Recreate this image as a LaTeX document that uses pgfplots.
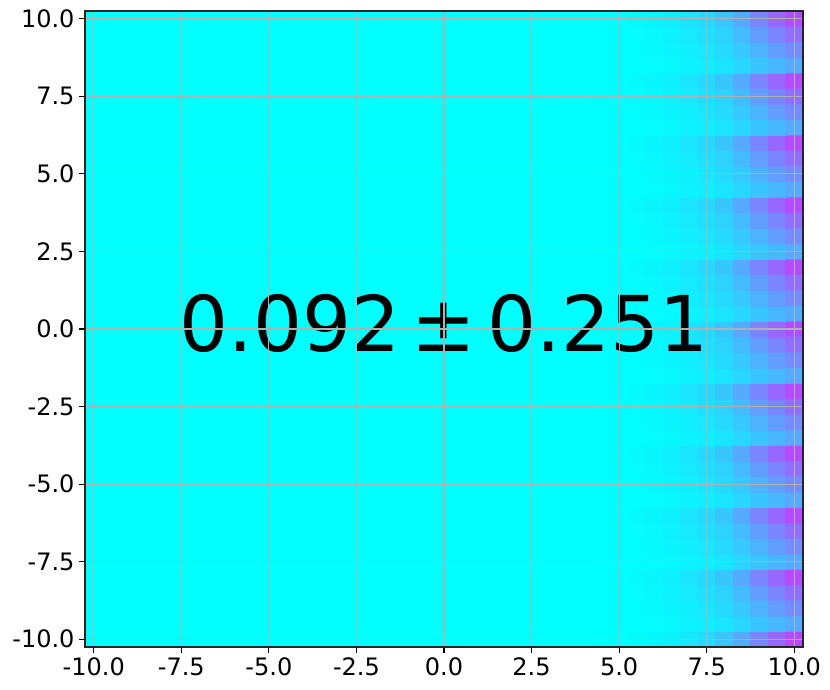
\documentclass[border=0pt]{standalone}
\usepackage{pgfplots}
\pgfplotsset{compat=1.18}
\usepackage{fontspec}
\setmainfont{DejaVu Sans}
\definecolor{gridgray}{RGB}{176,176,176}
\begin{document}
\begin{tikzpicture}
\path[use as bounding box] (-85pt,-43pt) rectangle (745pt,647pt);
\begin{axis}[
  at={(0pt,0pt)}, anchor=south west,
  width=718pt, height=636pt, scale only axis,
  xmin=-10.25, xmax=10.25, ymin=-10.25, ymax=10.25,
  axis background/.style={fill={rgb,1:red,0;green,1;blue,1}},
  colormap={cool}{rgb=(0,1,1) rgb=(1,0,1)},
  point meta min=0, point meta max=1,
  axis on top,
  xtick={-10,-7.5,-5,-2.5,0,2.5,5,7.5,10},
  ytick={-10,-7.5,-5,-2.5,0,2.5,5,7.5,10},
  xticklabels={-10.0,-7.5,-5.0,-2.5,0.0,2.5,5.0,7.5,10.0},
  yticklabels={-10.0,-7.5,-5.0,-2.5,0.0,2.5,5.0,7.5,10.0},
  xtick pos=bottom, ytick pos=left,
  ticklabel style={font=\fontsize{24}{24}\selectfont},
  xticklabel style={yshift=-1pt},
  yticklabel style={xshift=-1pt},
  tick align=outside, major tick length=6pt,
  tick style={black, line width=1.2pt},
  axis line style={line width=1.5pt, black!85},
  grid=major,
  major grid style={gridgray, line width=1.1pt},
]
\addplot[matrix plot*, mesh/cols=12, point meta=explicit, shader=flat corner]
 table[row sep=\\, x index=0, y index=1, meta index=2] {
4.5 -10 0.004\\ 5 -10 0.010\\ 5.5 -10 0.020\\ 6 -10 0.035\\ 6.5 -10 0.060\\ 7 -10 0.100\\ 7.5 -10 0.145\\ 8 -10 0.220\\ 8.5 -10 0.330\\ 9 -10 0.470\\ 9.5 -10 0.590\\ 10 -10 0.700\\
4.5 -9.5 0.002\\ 5 -9.5 0.005\\ 5.5 -9.5 0.009\\ 6 -9.5 0.016\\ 6.5 -9.5 0.028\\ 7 -9.5 0.047\\ 7.5 -9.5 0.068\\ 8 -9.5 0.103\\ 8.5 -9.5 0.155\\ 9 -9.5 0.221\\ 9.5 -9.5 0.277\\ 10 -9.5 0.329\\
4.5 -9 0.003\\ 5 -9 0.006\\ 5.5 -9 0.013\\ 6 -9 0.022\\ 6.5 -9 0.038\\ 7 -9 0.064\\ 7.5 -9 0.093\\ 8 -9 0.141\\ 8.5 -9 0.211\\ 9 -9 0.301\\ 9.5 -9 0.378\\ 10 -9 0.448\\
4.5 -8.5 0.003\\ 5 -8.5 0.008\\ 5.5 -8.5 0.016\\ 6 -8.5 0.028\\ 6.5 -8.5 0.048\\ 7 -8.5 0.080\\ 7.5 -8.5 0.116\\ 8 -8.5 0.176\\ 8.5 -8.5 0.264\\ 9 -8.5 0.376\\ 9.5 -8.5 0.472\\ 10 -8.5 0.560\\
4.5 -8 0.004\\ 5 -8 0.010\\ 5.5 -8 0.020\\ 6 -8 0.035\\ 6.5 -8 0.060\\ 7 -8 0.100\\ 7.5 -8 0.145\\ 8 -8 0.220\\ 8.5 -8 0.330\\ 9 -8 0.470\\ 9.5 -8 0.590\\ 10 -8 0.700\\
4.5 -7.5 0.002\\ 5 -7.5 0.005\\ 5.5 -7.5 0.009\\ 6 -7.5 0.016\\ 6.5 -7.5 0.028\\ 7 -7.5 0.047\\ 7.5 -7.5 0.068\\ 8 -7.5 0.103\\ 8.5 -7.5 0.155\\ 9 -7.5 0.221\\ 9.5 -7.5 0.277\\ 10 -7.5 0.329\\
4.5 -7 0.003\\ 5 -7 0.006\\ 5.5 -7 0.013\\ 6 -7 0.022\\ 6.5 -7 0.038\\ 7 -7 0.064\\ 7.5 -7 0.093\\ 8 -7 0.141\\ 8.5 -7 0.211\\ 9 -7 0.301\\ 9.5 -7 0.378\\ 10 -7 0.448\\
4.5 -6.5 0.003\\ 5 -6.5 0.008\\ 5.5 -6.5 0.016\\ 6 -6.5 0.028\\ 6.5 -6.5 0.048\\ 7 -6.5 0.080\\ 7.5 -6.5 0.116\\ 8 -6.5 0.176\\ 8.5 -6.5 0.264\\ 9 -6.5 0.376\\ 9.5 -6.5 0.472\\ 10 -6.5 0.560\\
4.5 -6 0.004\\ 5 -6 0.010\\ 5.5 -6 0.020\\ 6 -6 0.035\\ 6.5 -6 0.060\\ 7 -6 0.100\\ 7.5 -6 0.145\\ 8 -6 0.220\\ 8.5 -6 0.330\\ 9 -6 0.470\\ 9.5 -6 0.590\\ 10 -6 0.700\\
4.5 -5.5 0.002\\ 5 -5.5 0.005\\ 5.5 -5.5 0.009\\ 6 -5.5 0.016\\ 6.5 -5.5 0.028\\ 7 -5.5 0.047\\ 7.5 -5.5 0.068\\ 8 -5.5 0.103\\ 8.5 -5.5 0.155\\ 9 -5.5 0.221\\ 9.5 -5.5 0.277\\ 10 -5.5 0.329\\
4.5 -5 0.003\\ 5 -5 0.006\\ 5.5 -5 0.013\\ 6 -5 0.022\\ 6.5 -5 0.038\\ 7 -5 0.064\\ 7.5 -5 0.093\\ 8 -5 0.141\\ 8.5 -5 0.211\\ 9 -5 0.301\\ 9.5 -5 0.378\\ 10 -5 0.448\\
4.5 -4.5 0.003\\ 5 -4.5 0.008\\ 5.5 -4.5 0.016\\ 6 -4.5 0.028\\ 6.5 -4.5 0.048\\ 7 -4.5 0.080\\ 7.5 -4.5 0.116\\ 8 -4.5 0.176\\ 8.5 -4.5 0.264\\ 9 -4.5 0.376\\ 9.5 -4.5 0.472\\ 10 -4.5 0.560\\
4.5 -4 0.004\\ 5 -4 0.010\\ 5.5 -4 0.020\\ 6 -4 0.035\\ 6.5 -4 0.060\\ 7 -4 0.100\\ 7.5 -4 0.145\\ 8 -4 0.220\\ 8.5 -4 0.330\\ 9 -4 0.470\\ 9.5 -4 0.590\\ 10 -4 0.700\\
4.5 -3.5 0.002\\ 5 -3.5 0.005\\ 5.5 -3.5 0.009\\ 6 -3.5 0.016\\ 6.5 -3.5 0.028\\ 7 -3.5 0.047\\ 7.5 -3.5 0.068\\ 8 -3.5 0.103\\ 8.5 -3.5 0.155\\ 9 -3.5 0.221\\ 9.5 -3.5 0.277\\ 10 -3.5 0.329\\
4.5 -3 0.003\\ 5 -3 0.006\\ 5.5 -3 0.013\\ 6 -3 0.022\\ 6.5 -3 0.038\\ 7 -3 0.064\\ 7.5 -3 0.093\\ 8 -3 0.141\\ 8.5 -3 0.211\\ 9 -3 0.301\\ 9.5 -3 0.378\\ 10 -3 0.448\\
4.5 -2.5 0.003\\ 5 -2.5 0.008\\ 5.5 -2.5 0.016\\ 6 -2.5 0.028\\ 6.5 -2.5 0.048\\ 7 -2.5 0.080\\ 7.5 -2.5 0.116\\ 8 -2.5 0.176\\ 8.5 -2.5 0.264\\ 9 -2.5 0.376\\ 9.5 -2.5 0.472\\ 10 -2.5 0.560\\
4.5 -2 0.004\\ 5 -2 0.010\\ 5.5 -2 0.020\\ 6 -2 0.035\\ 6.5 -2 0.060\\ 7 -2 0.100\\ 7.5 -2 0.145\\ 8 -2 0.220\\ 8.5 -2 0.330\\ 9 -2 0.470\\ 9.5 -2 0.590\\ 10 -2 0.700\\
4.5 -1.5 0.002\\ 5 -1.5 0.005\\ 5.5 -1.5 0.009\\ 6 -1.5 0.016\\ 6.5 -1.5 0.028\\ 7 -1.5 0.047\\ 7.5 -1.5 0.068\\ 8 -1.5 0.103\\ 8.5 -1.5 0.155\\ 9 -1.5 0.221\\ 9.5 -1.5 0.277\\ 10 -1.5 0.329\\
4.5 -1 0.003\\ 5 -1 0.006\\ 5.5 -1 0.013\\ 6 -1 0.022\\ 6.5 -1 0.038\\ 7 -1 0.064\\ 7.5 -1 0.093\\ 8 -1 0.141\\ 8.5 -1 0.211\\ 9 -1 0.301\\ 9.5 -1 0.378\\ 10 -1 0.448\\
4.5 -0.5 0.003\\ 5 -0.5 0.008\\ 5.5 -0.5 0.016\\ 6 -0.5 0.028\\ 6.5 -0.5 0.048\\ 7 -0.5 0.080\\ 7.5 -0.5 0.116\\ 8 -0.5 0.176\\ 8.5 -0.5 0.264\\ 9 -0.5 0.376\\ 9.5 -0.5 0.472\\ 10 -0.5 0.560\\
4.5 0 0.004\\ 5 0 0.010\\ 5.5 0 0.020\\ 6 0 0.035\\ 6.5 0 0.060\\ 7 0 0.100\\ 7.5 0 0.145\\ 8 0 0.220\\ 8.5 0 0.330\\ 9 0 0.470\\ 9.5 0 0.590\\ 10 0 0.700\\
4.5 0.5 0.002\\ 5 0.5 0.005\\ 5.5 0.5 0.009\\ 6 0.5 0.016\\ 6.5 0.5 0.028\\ 7 0.5 0.047\\ 7.5 0.5 0.068\\ 8 0.5 0.103\\ 8.5 0.5 0.155\\ 9 0.5 0.221\\ 9.5 0.5 0.277\\ 10 0.5 0.329\\
4.5 1 0.003\\ 5 1 0.006\\ 5.5 1 0.013\\ 6 1 0.022\\ 6.5 1 0.038\\ 7 1 0.064\\ 7.5 1 0.093\\ 8 1 0.141\\ 8.5 1 0.211\\ 9 1 0.301\\ 9.5 1 0.378\\ 10 1 0.448\\
4.5 1.5 0.003\\ 5 1.5 0.008\\ 5.5 1.5 0.016\\ 6 1.5 0.028\\ 6.5 1.5 0.048\\ 7 1.5 0.080\\ 7.5 1.5 0.116\\ 8 1.5 0.176\\ 8.5 1.5 0.264\\ 9 1.5 0.376\\ 9.5 1.5 0.472\\ 10 1.5 0.560\\
4.5 2 0.004\\ 5 2 0.010\\ 5.5 2 0.020\\ 6 2 0.035\\ 6.5 2 0.060\\ 7 2 0.100\\ 7.5 2 0.145\\ 8 2 0.220\\ 8.5 2 0.330\\ 9 2 0.470\\ 9.5 2 0.590\\ 10 2 0.700\\
4.5 2.5 0.002\\ 5 2.5 0.005\\ 5.5 2.5 0.009\\ 6 2.5 0.016\\ 6.5 2.5 0.028\\ 7 2.5 0.047\\ 7.5 2.5 0.068\\ 8 2.5 0.103\\ 8.5 2.5 0.155\\ 9 2.5 0.221\\ 9.5 2.5 0.277\\ 10 2.5 0.329\\
4.5 3 0.003\\ 5 3 0.006\\ 5.5 3 0.013\\ 6 3 0.022\\ 6.5 3 0.038\\ 7 3 0.064\\ 7.5 3 0.093\\ 8 3 0.141\\ 8.5 3 0.211\\ 9 3 0.301\\ 9.5 3 0.378\\ 10 3 0.448\\
4.5 3.5 0.003\\ 5 3.5 0.008\\ 5.5 3.5 0.016\\ 6 3.5 0.028\\ 6.5 3.5 0.048\\ 7 3.5 0.080\\ 7.5 3.5 0.116\\ 8 3.5 0.176\\ 8.5 3.5 0.264\\ 9 3.5 0.376\\ 9.5 3.5 0.472\\ 10 3.5 0.560\\
4.5 4 0.004\\ 5 4 0.010\\ 5.5 4 0.020\\ 6 4 0.035\\ 6.5 4 0.060\\ 7 4 0.100\\ 7.5 4 0.145\\ 8 4 0.220\\ 8.5 4 0.330\\ 9 4 0.470\\ 9.5 4 0.590\\ 10 4 0.700\\
4.5 4.5 0.002\\ 5 4.5 0.005\\ 5.5 4.5 0.009\\ 6 4.5 0.016\\ 6.5 4.5 0.028\\ 7 4.5 0.047\\ 7.5 4.5 0.068\\ 8 4.5 0.103\\ 8.5 4.5 0.155\\ 9 4.5 0.221\\ 9.5 4.5 0.277\\ 10 4.5 0.329\\
4.5 5 0.003\\ 5 5 0.006\\ 5.5 5 0.013\\ 6 5 0.022\\ 6.5 5 0.038\\ 7 5 0.064\\ 7.5 5 0.093\\ 8 5 0.141\\ 8.5 5 0.211\\ 9 5 0.301\\ 9.5 5 0.378\\ 10 5 0.448\\
4.5 5.5 0.003\\ 5 5.5 0.008\\ 5.5 5.5 0.016\\ 6 5.5 0.028\\ 6.5 5.5 0.048\\ 7 5.5 0.080\\ 7.5 5.5 0.116\\ 8 5.5 0.176\\ 8.5 5.5 0.264\\ 9 5.5 0.376\\ 9.5 5.5 0.472\\ 10 5.5 0.560\\
4.5 6 0.004\\ 5 6 0.010\\ 5.5 6 0.020\\ 6 6 0.035\\ 6.5 6 0.060\\ 7 6 0.100\\ 7.5 6 0.145\\ 8 6 0.220\\ 8.5 6 0.330\\ 9 6 0.470\\ 9.5 6 0.590\\ 10 6 0.700\\
4.5 6.5 0.002\\ 5 6.5 0.005\\ 5.5 6.5 0.009\\ 6 6.5 0.016\\ 6.5 6.5 0.028\\ 7 6.5 0.047\\ 7.5 6.5 0.068\\ 8 6.5 0.103\\ 8.5 6.5 0.155\\ 9 6.5 0.221\\ 9.5 6.5 0.277\\ 10 6.5 0.329\\
4.5 7 0.003\\ 5 7 0.006\\ 5.5 7 0.013\\ 6 7 0.022\\ 6.5 7 0.038\\ 7 7 0.064\\ 7.5 7 0.093\\ 8 7 0.141\\ 8.5 7 0.211\\ 9 7 0.301\\ 9.5 7 0.378\\ 10 7 0.448\\
4.5 7.5 0.003\\ 5 7.5 0.008\\ 5.5 7.5 0.016\\ 6 7.5 0.028\\ 6.5 7.5 0.048\\ 7 7.5 0.080\\ 7.5 7.5 0.116\\ 8 7.5 0.176\\ 8.5 7.5 0.264\\ 9 7.5 0.376\\ 9.5 7.5 0.472\\ 10 7.5 0.560\\
4.5 8 0.004\\ 5 8 0.010\\ 5.5 8 0.020\\ 6 8 0.035\\ 6.5 8 0.060\\ 7 8 0.100\\ 7.5 8 0.145\\ 8 8 0.220\\ 8.5 8 0.330\\ 9 8 0.470\\ 9.5 8 0.590\\ 10 8 0.700\\
4.5 8.5 0.002\\ 5 8.5 0.005\\ 5.5 8.5 0.009\\ 6 8.5 0.016\\ 6.5 8.5 0.028\\ 7 8.5 0.047\\ 7.5 8.5 0.068\\ 8 8.5 0.103\\ 8.5 8.5 0.155\\ 9 8.5 0.221\\ 9.5 8.5 0.277\\ 10 8.5 0.329\\
4.5 9 0.003\\ 5 9 0.006\\ 5.5 9 0.013\\ 6 9 0.022\\ 6.5 9 0.038\\ 7 9 0.064\\ 7.5 9 0.093\\ 8 9 0.141\\ 8.5 9 0.211\\ 9 9 0.301\\ 9.5 9 0.378\\ 10 9 0.448\\
4.5 9.5 0.003\\ 5 9.5 0.008\\ 5.5 9.5 0.016\\ 6 9.5 0.028\\ 6.5 9.5 0.048\\ 7 9.5 0.080\\ 7.5 9.5 0.116\\ 8 9.5 0.176\\ 8.5 9.5 0.264\\ 9 9.5 0.376\\ 9.5 9.5 0.472\\ 10 9.5 0.560\\
4.5 10 0.004\\ 5 10 0.010\\ 5.5 10 0.020\\ 6 10 0.035\\ 6.5 10 0.060\\ 7 10 0.100\\ 7.5 10 0.145\\ 8 10 0.220\\ 8.5 10 0.330\\ 9 10 0.470\\ 9.5 10 0.590\\ 10 10 0.700\\
};
\node[inner sep=0pt, yshift=6pt, font=\fontsize{77}{77}\selectfont] at (axis cs:0,0) {0.092\hspace{0.15em}±\hspace{0.15em}0.251};
\end{axis}
\end{tikzpicture}
\end{document}
